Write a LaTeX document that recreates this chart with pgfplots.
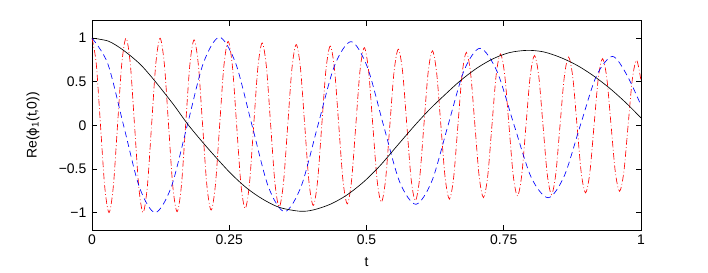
\documentclass[border=0pt]{standalone}
\usepackage{fontspec}
\setmainfont{Liberation Sans}
\newfontfamily\dejavu{DejaVu Sans}
\usepackage{pgfplots}
\pgfplotsset{compat=1.18}
\usetikzlibrary{calc}
\begin{document}
\begin{tikzpicture}
\begin{axis}[
  scale only axis,
  width=549bp, height=209.3bp,
  xmin=0, xmax=1, ymin=-1.2, ymax=1.2,
  xtick={0,0.25,0.5,0.75,1},
  xticklabels={0,0.25,0.5,0.75,1},
  ytick={-1,-0.5,0,0.5,1},
  yticklabels={−1,−0.5,0,0.5,1},
  xtick pos=both, ytick pos=both,
  xticklabel pos=lower, yticklabel pos=left,
  tick align=inside,
  major tick length=5bp,
  axis line style={black, line width=0.6pt},
  every tick/.style={black, line width=0.6pt},
  tick label style={font=\fontsize{14}{16}\selectfont},
  xticklabel style={inner sep=0pt, anchor=north, yshift=-5bp},
  yticklabel style={inner sep=0pt, anchor=east, xshift=-5.5bp},
  every axis x label/.style={at={(axis description cs:0.5,-0.129)}, anchor=north, inner sep=0pt, font=\fontsize{14}{16}\selectfont},
  every axis y label/.style={at={(axis description cs:-0.1075,0.5)}, anchor=center, rotate=90, inner sep=0pt, font=\fontsize{14}{16}\selectfont},
  xlabel={t},
  ylabel={Re({\dejavu\fontsize{13}{16}\selectfont ϕ}\textsubscript{1}(t,0))},
]
% red dash-dot
\addplot[red, line width=0.65pt, smooth, dash pattern=on 6.5bp off 2.5bp on 0.8bp off 2.5bp] coordinates {
(0,1) (0.00775,0.707) (0.0155,0) (0.02325,-0.707) (0.031,-1) (0.03875,-0.707) (0.0465,0) (0.05425,0.707)
(0.062,1) (0.06975,0.707) (0.0775,0) (0.08525,-0.707) (0.093,-1) (0.10075,-0.707) (0.1085,0) (0.11625,0.707)
(0.124,0.999) (0.13175,0.705) (0.1395,0) (0.14725,-0.702) (0.155,-0.990) (0.16275,-0.698) (0.1705,0) (0.17825,0.695)
(0.186,0.981) (0.19375,0.692) (0.2015,0) (0.20925,-0.689) (0.217,-0.972) (0.22475,-0.686) (0.2325,0) (0.24025,0.682)
(0.248,0.963) (0.25575,0.679) (0.2635,0) (0.27125,-0.676) (0.279,-0.954) (0.28675,-0.673) (0.2945,0) (0.30225,0.670)
(0.310,0.945) (0.31775,0.667) (0.3255,0) (0.33325,-0.663) (0.341,-0.936) (0.34875,-0.660) (0.3565,0) (0.36425,0.657)
(0.372,0.927) (0.37975,0.654) (0.3875,0) (0.39525,-0.651) (0.403,-0.918) (0.41075,-0.647) (0.4185,0) (0.42625,0.644)
(0.434,0.909) (0.44175,0.641) (0.4495,0) (0.45725,-0.638) (0.465,-0.900) (0.47275,-0.635) (0.4805,0) (0.48825,0.632)
(0.496,0.891) (0.50375,0.628) (0.5115,0) (0.51925,-0.625) (0.527,-0.882) (0.53475,-0.622) (0.5425,0) (0.55025,0.619)
(0.558,0.873) (0.56575,0.616) (0.5735,0) (0.58125,-0.613) (0.589,-0.864) (0.59675,-0.609) (0.6045,0) (0.61225,0.606)
(0.620,0.855) (0.62775,0.603) (0.6355,0) (0.64325,-0.600) (0.651,-0.846) (0.65875,-0.597) (0.6665,0) (0.67425,0.593)
(0.682,0.837) (0.68975,0.590) (0.6975,0) (0.70525,-0.587) (0.713,-0.828) (0.72075,-0.584) (0.7285,0) (0.73625,0.581)
(0.744,0.819) (0.75175,0.578) (0.7595,0) (0.76725,-0.574) (0.775,-0.810) (0.78275,-0.571) (0.7905,0) (0.79825,0.568)
(0.806,0.801) (0.81375,0.565) (0.8215,0) (0.82925,-0.562) (0.837,-0.792) (0.84475,-0.558) (0.8525,0) (0.86025,0.555)
(0.868,0.783) (0.87575,0.552) (0.8835,0) (0.89125,-0.549) (0.899,-0.774) (0.90675,-0.546) (0.9145,0) (0.92225,0.543)
(0.930,0.765) (0.93775,0.539) (0.9455,0) (0.95325,-0.536) (0.961,-0.756) (0.96875,-0.533) (0.9765,0) (0.98425,0.530)
(0.992,0.747) (1,0.513)
};
% blue dashed
\addplot[blue, line width=0.65pt, smooth, dash pattern=on 6bp off 4bp] coordinates {
(0,1) (0.02875,0.707) (0.0575,0) (0.08625,-0.707) (0.115,-1.0)
(0.14425,-0.709) (0.1735,0) (0.20275,0.712) (0.232,1.01)
(0.26175,0.711) (0.2915,0) (0.32125,-0.704) (0.351,-0.99)
(0.38125,-0.695) (0.4115,0) (0.44175,0.684) (0.472,0.96)
(0.5015,0.669) (0.531,0) (0.5605,-0.650) (0.590,-0.905)
(0.61925,-0.636) (0.6485,0) (0.67775,0.629) (0.707,0.884)
(0.738,0.615) (0.769,0) (0.800,-0.596) (0.831,-0.83)
(0.86025,-0.580) (0.8895,0) (0.91875,0.566) (0.948,0.79)
(0.974,0.58) (1,0.23)
};
% black solid
\addplot[black, line width=0.65pt, smooth] coordinates {
(0,1.0) (0.03,0.965) (0.057,0.862) (0.087,0.705) (0.112,0.528) (0.148,0.242) (0.176,0.0)
(0.212,-0.27) (0.251,-0.54) (0.282,-0.72) (0.312,-0.85) (0.342,-0.942) (0.379,-0.985)
(0.403,-0.97) (0.434,-0.905) (0.464,-0.80) (0.495,-0.647) (0.525,-0.46) (0.555,-0.24) (0.588,0.0)
(0.616,0.19) (0.643,0.352) (0.670,0.507) (0.701,0.656) (0.731,0.765) (0.761,0.835) (0.793,0.86)
(0.822,0.843) (0.852,0.782) (0.883,0.69) (0.913,0.57) (0.944,0.42) (0.974,0.25) (1.0,0.085)
};
\end{axis}
\path ($(current axis.south west)+(-92bp,-43bp)$) rectangle ($(current axis.north east)+(67bp,20.7bp)$);
\end{tikzpicture}
\end{document}
